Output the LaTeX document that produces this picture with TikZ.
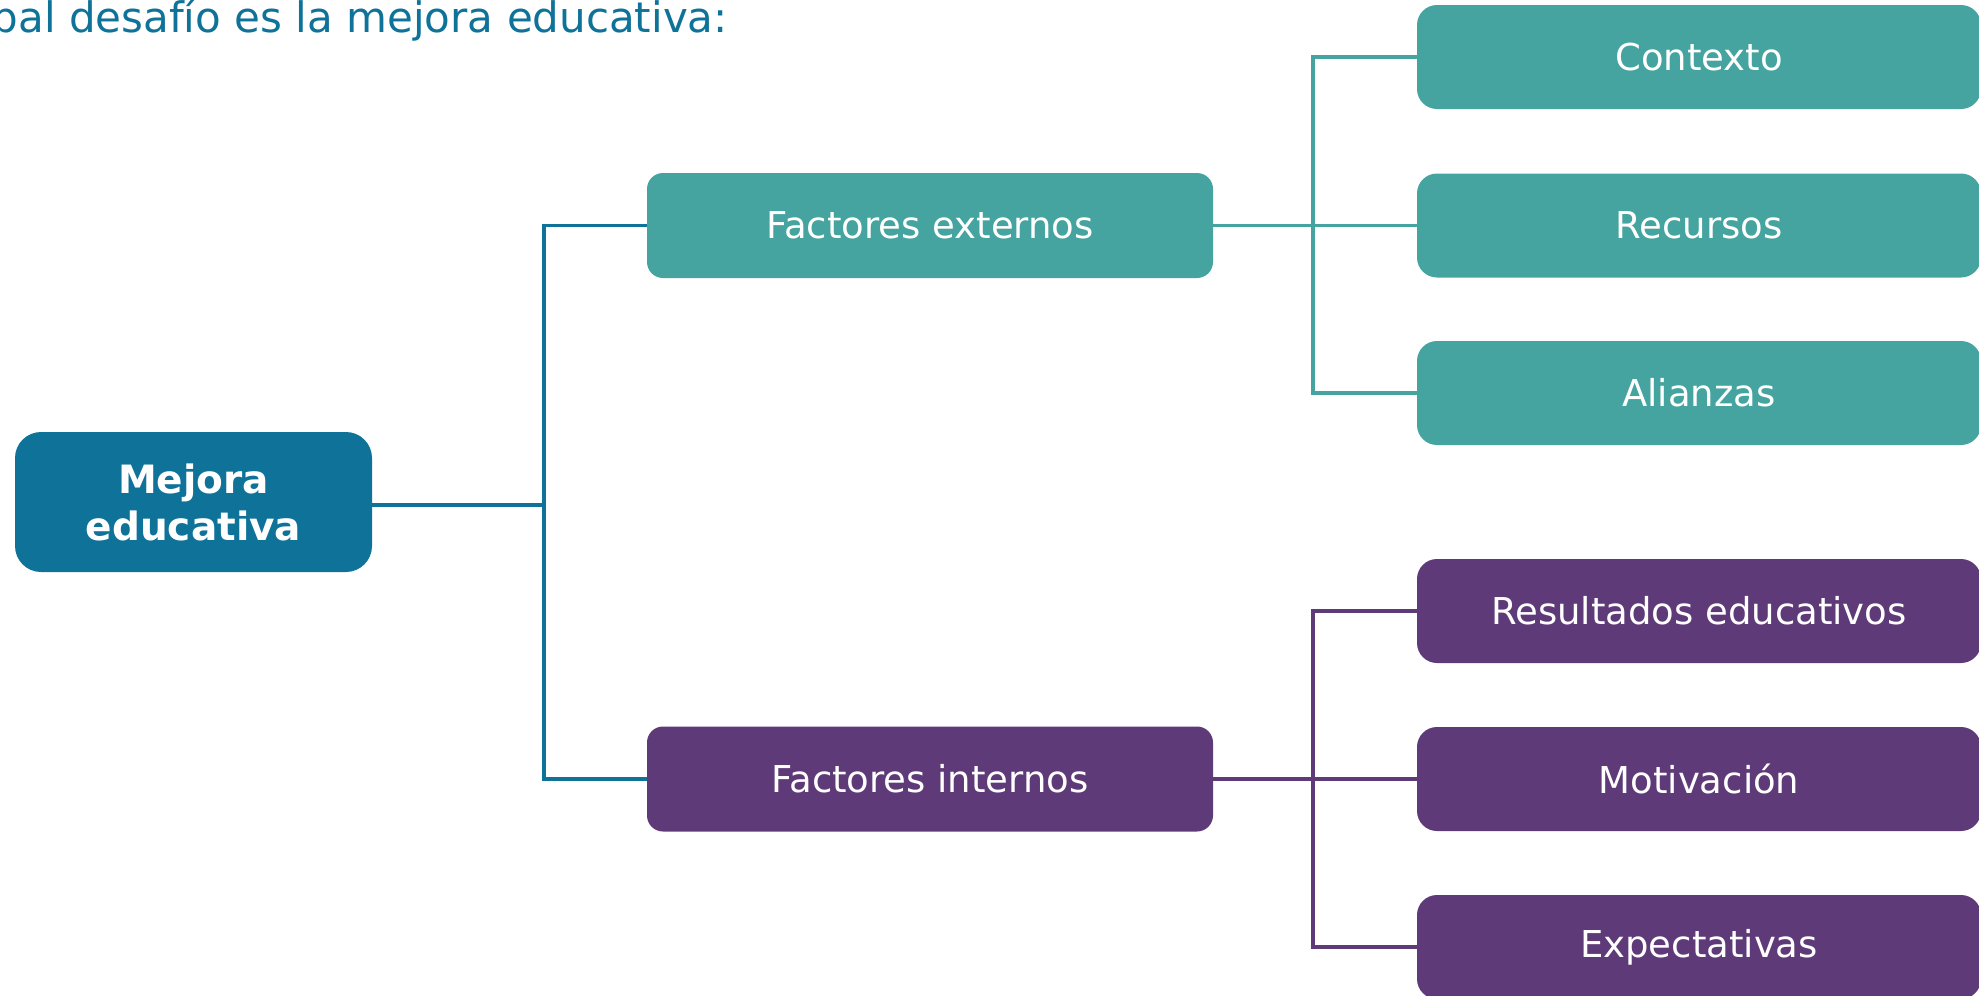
\documentclass[tikz,border=0pt]{standalone}
\usepackage{fontspec}
\setmainfont{DejaVu Sans}
\definecolor{cblue}{HTML}{0F7399}
\definecolor{cteal}{HTML}{45A49F}
\definecolor{cpurple}{HTML}{5F3A78}
\tikzset{
  box/.style={rectangle, inner sep=0pt, text=white, align=center,
    font=\fontsize{37}{44}\selectfont},
  lvlone/.style={box, minimum width=566pt, minimum height=105pt, rounded corners=16pt},
  leaf/.style={box, minimum width=564pt, minimum height=104pt, rounded corners=20pt},
  conn/.style={line width=3.3pt, line join=miter}
}
\begin{document}
\begin{tikzpicture}[x=1pt,y=-1pt]
\useasboundingbox (0,0) rectangle (1979,996);
% title
\node[anchor=base east, inner sep=0pt, text=cblue, font=\fontsize{42}{48}\selectfont] (title) at (728,32) {pal desafío es la mejora educativa:};
% root
\node[box, fill=cblue, minimum width=357pt, minimum height=140pt, rounded corners=26pt,
  font=\fontsize{39}{47}\selectfont\bfseries] (root) at (193.5,502) {Mejora\\educativa};
% level one
\node[lvlone, fill=cteal] (fe) at (930,225.5) {Factores externos};
\node[lvlone, fill=cpurple] (fi) at (930,779) {Factores internos};
% leaves
\node[leaf, fill=cteal] (ctx) at (1699,57) {Contexto};
\node[leaf, fill=cteal] (rec) at (1699,225.5) {Recursos};
\node[leaf, fill=cteal] (ali) at (1699,393) {Alianzas};
\node[leaf, fill=cpurple] (res) at (1699,611) {Resultados educativos};
\node[leaf, fill=cpurple] (mot) at (1699,779) {Motivación};
\node[leaf, fill=cpurple] (exp) at (1699,947) {Expectativas};
% bus coordinates
\coordinate (j) at (544,505);
\coordinate (tb) at (1313,225.5);
\coordinate (pb) at (1313,779);
% connectors
\draw[conn, cblue] (root.east |- j) -- (j);
\draw[conn, cblue] (fe.west) -- (fe.west -| j) -- (fi.west -| j) -- (fi.west);
\draw[conn, cteal] (fe.east) -- (rec.west);
\draw[conn, cteal] (ctx.west) -- (ctx.west -| tb) -- (ali.west -| tb) -- (ali.west);
\draw[conn, cpurple] (fi.east) -- (mot.west);
\draw[conn, cpurple] (res.west) -- (res.west -| pb) -- (exp.west -| pb) -- (exp.west);
\end{tikzpicture}
\end{document}
